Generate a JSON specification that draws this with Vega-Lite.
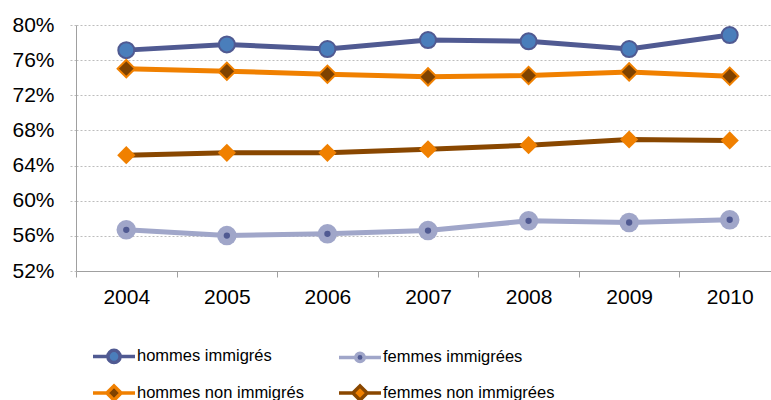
{
  "$schema": "https://vega.github.io/schema/vega-lite/v6.json",
  "width": 695,
  "height": 246,
  "autosize": {"type": "none"},
  "padding": {"left": 76, "top": 25, "right": 0, "bottom": 129},
  "background": "white",
  "config": {
    "view": {"stroke": null},
    "font": "Liberation Sans"
  },
  "data": {
    "values": [
      {"year": "2004", "series": "hommes immigrés", "value": 77.14},
      {"year": "2005", "series": "hommes immigrés", "value": 77.79},
      {"year": "2006", "series": "hommes immigrés", "value": 77.26},
      {"year": "2007", "series": "hommes immigrés", "value": 78.29},
      {"year": "2008", "series": "hommes immigrés", "value": 78.14},
      {"year": "2009", "series": "hommes immigrés", "value": 77.26},
      {"year": "2010", "series": "hommes immigrés", "value": 78.86},
      {"year": "2004", "series": "femmes immigrées", "value": 56.69},
      {"year": "2005", "series": "femmes immigrées", "value": 56.03},
      {"year": "2006", "series": "femmes immigrées", "value": 56.23},
      {"year": "2007", "series": "femmes immigrées", "value": 56.6},
      {"year": "2008", "series": "femmes immigrées", "value": 57.71},
      {"year": "2009", "series": "femmes immigrées", "value": 57.52},
      {"year": "2010", "series": "femmes immigrées", "value": 57.83},
      {"year": "2004", "series": "hommes non immigrés", "value": 75.03},
      {"year": "2005", "series": "hommes non immigrés", "value": 74.74},
      {"year": "2006", "series": "hommes non immigrés", "value": 74.4},
      {"year": "2007", "series": "hommes non immigrés", "value": 74.1},
      {"year": "2008", "series": "hommes non immigrés", "value": 74.25},
      {"year": "2009", "series": "hommes non immigrés", "value": 74.66},
      {"year": "2010", "series": "hommes non immigrés", "value": 74.17},
      {"year": "2004", "series": "femmes non immigrées", "value": 65.18},
      {"year": "2005", "series": "femmes non immigrées", "value": 65.45},
      {"year": "2006", "series": "femmes non immigrées", "value": 65.45},
      {"year": "2007", "series": "femmes non immigrées", "value": 65.86},
      {"year": "2008", "series": "femmes non immigrées", "value": 66.32},
      {"year": "2009", "series": "femmes non immigrées", "value": 66.97},
      {"year": "2010", "series": "femmes non immigrées", "value": 66.86}
    ]
  },
  "encoding": {
    "x": {
      "field": "year",
      "type": "ordinal",
      "bandPosition": 0.5,
      "scale": {"type": "band", "range": [0, 704], "paddingInner": 0, "paddingOuter": 0},
      "axis": {
        "title": null,
        "labelAngle": 0,
        "tickBand": "extent",
        "labelFontSize": 21,
        "labelColor": "#000000",
        "tickSize": 6,
        "tickColor": "#a0a0a0",
        "domainColor": "#a0a0a0",
        "labelPadding": 9,
        "grid": false
      }
    },
    "y": {
      "field": "value",
      "type": "quantitative",
      "scale": {"domain": [52, 80], "nice": false, "zero": false},
      "axis": {
        "title": null,
        "values": [52, 56, 60, 64, 68, 72, 76, 80],
        "labelExpr": "datum.value + '%'",
        "labelFontSize": 21,
        "labelColor": "#000000",
        "labelPadding": 14,
        "tickSize": 8,
        "tickColor": "#bdbdbd",
        "tickDash": [2, 2],
        "grid": true,
        "gridColor": "#bdbdbd",
        "gridDash": [2, 2],
        "domainColor": "#a0a0a0"
      }
    }
  },
  "layer": [
    {
      "mark": {"type": "line", "strokeWidth": 5},
      "encoding": {
        "stroke": {
          "field": "series",
          "type": "nominal",
          "scale": {
            "domain": ["hommes immigrés", "femmes immigrées", "hommes non immigrés", "femmes non immigrées"],
            "range": ["#505a92", "#a0a6c9", "#f08000", "#894700"]
          },
          "legend": {
            "title": null,
            "orient": "none",
            "direction": "horizontal",
            "legendX": 15,
            "legendY": 308,
            "columns": 2,
            "columnPadding": 28,
            "rowPadding": -12,
            "labelFontSize": 16.5,
            "labelColor": "#000000",
            "labelOffset": 0,
            "labelLimit": 300,
            "symbolSize": 1764,
            "symbolStrokeWidth": 3.5,
            "encode": {
              "symbols": {
                "update": {
                  "shape": {"signal": "datum.value === 'hommes immigrés' ? 'M-1,0H-0.29M0.29,0H1M0.29,0A0.29,0.29,0,1,1,-0.29,0A0.29,0.29,0,1,1,0.29,0Z' : datum.value === 'femmes immigrées' ? 'M-1,0H-0.2M0.2,0H1M0.2,0A0.2,0.2,0,1,1,-0.2,0A0.2,0.2,0,1,1,0.2,0Z' : 'M-1,0H-0.34M0.34,0H1M-0.34,0L0,-0.34L0.34,0L0,0.34Z'"},
                  "fill": {"signal": "datum.value === 'hommes immigrés' ? '#4a7ebb' : datum.value === 'femmes immigrées' ? '#505a92' : datum.value === 'hommes non immigrés' ? '#7f4200' : '#f08000'"},
                  "strokeWidth": {"value": 3.5},
                  "opacity": {"value": 1}
                }
              }
            }
          }
        }
      }
    },
    {
      "transform": [{"filter": "datum.series === 'hommes immigrés'"}],
      "mark": {"type": "point", "shape": "circle", "filled": true, "opacity": 1, "size": 256, "fill": "#4a7ebb", "stroke": "#505a92", "strokeWidth": 2}
    },
    {
      "transform": [{"filter": "datum.series === 'femmes immigrées'"}],
      "mark": {"type": "point", "shape": "circle", "filled": true, "opacity": 1, "size": 380, "fill": "#a0a6c9", "strokeWidth": 0}
    },
    {
      "transform": [{"filter": "datum.series === 'femmes immigrées'"}],
      "mark": {"type": "point", "shape": "circle", "filled": true, "opacity": 1, "size": 40, "fill": "#505a92", "strokeWidth": 0}
    },
    {
      "transform": [{"filter": "datum.series === 'hommes non immigrés'"}],
      "mark": {"type": "point", "shape": "diamond", "filled": true, "opacity": 1, "size": 300, "fill": "#7f4200", "stroke": "#f08000", "strokeWidth": 2}
    },
    {
      "transform": [{"filter": "datum.series === 'femmes non immigrées'"}],
      "mark": {"type": "point", "shape": "diamond", "filled": true, "opacity": 1, "size": 330, "fill": "#f08000", "strokeWidth": 0}
    }
  ]
}
